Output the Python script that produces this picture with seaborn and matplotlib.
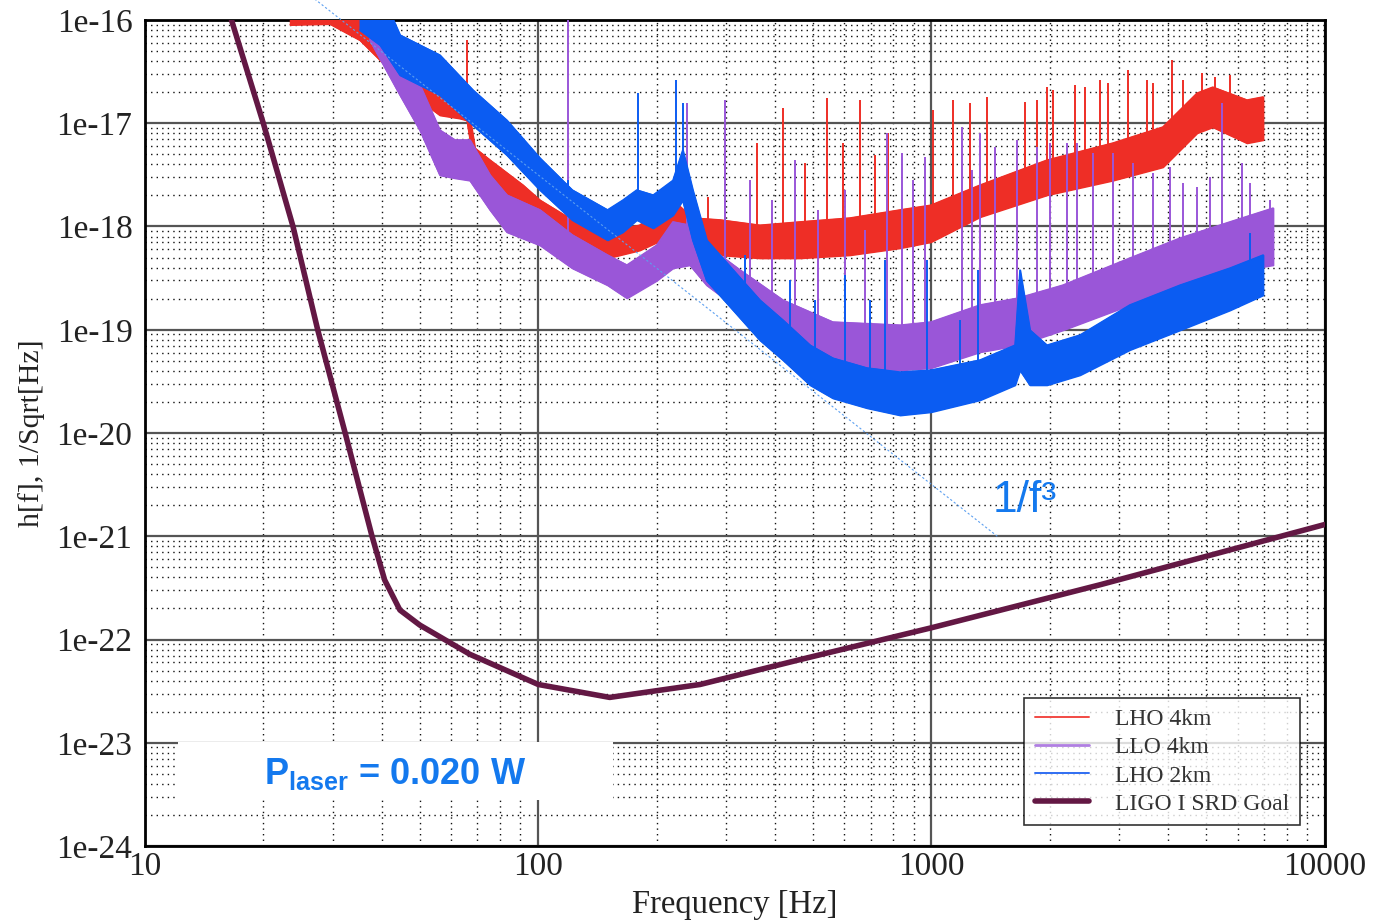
import numpy as np
import matplotlib
matplotlib.use("Agg")
import matplotlib.pyplot as plt
import seaborn as sns
from matplotlib.lines import Line2D
from matplotlib.patches import Rectangle
from matplotlib.ticker import FixedLocator, LogLocator, NullFormatter

# ---------------- data ----------------
# LHO 4km (red) noise band: frequency, lower edge, upper edge
lho4_f = [23.4, 29.5, 35.2, 39.6, 44.5, 50.0, 56.2, 63.0, 65.9, 69.0, 75.4, 91.4,
          101, 122, 150, 181, 220, 247, 290, 366, 463, 620, 832, 996, 1328, 1965,
          2891, 3873, 4732, 5188, 6339, 6966]
lho4_lo = [9.0e-17, 9.2e-17, 6.4e-17, 4.1e-17, 2.6e-17, 1.68e-17, 1.2e-17, 1.12e-17,
           1.07e-17, 3.52e-18, 2.52e-18, 1.45e-18, 1.03e-18, 6.6e-19, 4.95e-19, 5.9e-19,
           8.3e-19, 6.6e-19, 5.3e-19, 4.95e-19, 4.95e-19, 5.3e-19, 6.2e-19, 7.1e-19,
           1.24e-18, 2.02e-18, 2.8e-18, 3.77e-18, 8.05e-18, 9.2e-18, 6.44e-18, 6.9e-18]
lho4_hi = [2.44e-16, 2.44e-16, 1.25e-16, 8.0e-17, 5.1e-17, 2.93e-17, 1.88e-17, 1.76e-17,
           1.68e-17, 5.75e-18, 4.4e-18, 2.52e-18, 1.8e-18, 1.16e-18, 8.85e-19, 1.03e-18,
           1.8e-18, 1.21e-18, 1.16e-18, 1.03e-18, 1.11e-18, 1.21e-18, 1.45e-18, 1.61e-18,
           2.52e-18, 4.4e-18, 6.44e-18, 9.2e-18, 1.96e-17, 2.24e-17, 1.68e-17, 1.8e-17]
lho4_spike_f = [65.9, 270, 360, 419, 476, 542, 596, 658, 718, 775, 1009, 1133, 1252,
                1384, 1728, 1854, 1965, 2036, 2316, 2456, 2679, 2810, 3158, 3531, 3656,
                4083, 4355, 4871, 5260, 5737]
lho4_spike_h = [6.4e-17, 1.93e-18, 6.44e-18, 1.41e-17, 4.12e-18, 1.76e-17, 6.44e-18,
                1.68e-17, 4.93e-18, 8.05e-18, 1.34e-17, 1.68e-17, 1.57e-17, 1.8e-17,
                1.6e-17, 1.68e-17, 2.24e-17, 2.1e-17, 2.34e-17, 2.24e-17, 2.6e-17,
                2.45e-17, 3.28e-17, 2.6e-17, 2.45e-17, 4.1e-17, 2.6e-17, 3.07e-17,
                2.81e-17, 2.93e-17]

# LLO 4km (purple)
llo4_f = [37.3, 44.5, 50.0, 56.2, 61.4, 67.0, 75.4, 83.2, 101, 122, 150, 168, 200,
          220, 243, 268, 326, 419, 561, 832, 996, 1328, 1660, 2158, 3192, 4285, 5737, 7386]
llo4_lo = [6.4e-17, 1.88e-17, 8.6e-18, 3.15e-18, 2.95e-18, 2.8e-18, 1.45e-18, 8.85e-19,
           6.6e-19, 3.96e-19, 2.71e-19, 2.03e-19, 3.0e-19, 3.96e-19, 4.24e-19, 2.71e-19,
           1.55e-19, 7.1e-20, 4.56e-20, 4.07e-20, 4.27e-20, 6.1e-20, 7.1e-20, 9.95e-20,
           1.74e-19, 2.54e-19, 3.62e-19, 4.24e-19]
llo4_hi = [2.44e-16, 5.73e-17, 2.35e-17, 8.6e-18, 6.9e-18, 6.9e-18, 3.15e-18, 2.02e-18,
           1.45e-18, 8.3e-19, 5.3e-19, 4.24e-19, 6.6e-19, 1.11e-18, 1.03e-18, 6.6e-19,
           3.79e-19, 1.94e-19, 1.19e-19, 1.11e-19, 1.19e-19, 1.74e-19, 2.03e-19, 2.71e-19,
           4.95e-19, 7.74e-19, 1.11e-18, 1.51e-18]
llo4_spike_f = [119, 239, 298, 345, 393, 450, 514, 603, 678, 771, 842, 897, 962, 1194,
                1267, 1328, 1449, 1648, 1854, 2000, 2210, 2344, 2572, 2891, 3251, 3656,
                4036, 4355, 4732, 5105, 5474, 6151, 6454, 7250]
llo4_spike_h = [1.5e-16, 1.57e-17, 1.68e-17, 2.8e-18, 1.8e-18, 4.4e-18, 1.45e-18,
                2.26e-18, 9.25e-19, 8.05e-18, 5.15e-18, 2.8e-18, 4.71e-18, 9.2e-18,
                3.52e-18, 8.05e-18, 5.89e-18, 6.9e-18, 5.89e-18, 6.44e-18, 6.44e-18,
                6.44e-18, 5.15e-18, 5.15e-18, 4.12e-18, 3.3e-18, 3.77e-18, 2.64e-18,
                2.41e-18, 3.01e-18, 1.57e-17, 4.12e-18, 2.64e-18, 1.8e-18]

# LHO 2km (blue)
lho2_f = [35.2, 39.6, 44.5, 56.2, 68.2, 83.2, 101, 122, 150, 164, 178, 196, 220, 233,
          247, 268, 313, 366, 419, 491, 561, 685, 832, 996, 1328, 1630, 1678, 1778,
          1965, 2384, 3192, 4285, 5737, 6966]
lho2_lo = [8.0e-17, 5.73e-17, 2.93e-17, 1.88e-17, 9.6e-18, 4.93e-18, 2.26e-18, 1.16e-18,
           7.4e-19, 8.85e-19, 1.16e-18, 9.67e-19, 1.29e-18, 1.8e-18, 7.4e-19, 3.0e-19,
           1.55e-19, 7.95e-20, 5.1e-20, 2.92e-20, 2.18e-20, 1.75e-20, 1.49e-20, 1.6e-20,
           2.09e-20, 2.92e-20, 4.07e-20, 2.92e-20, 2.92e-20, 3.65e-20, 6.4e-20, 9.95e-20,
           1.55e-19, 2.17e-19]
lho2_hi = [2.44e-16, 1.95e-16, 7.16e-17, 4.58e-17, 2.1e-17, 1.07e-17, 4.6e-18, 2.26e-18,
           1.45e-18, 1.8e-18, 2.26e-18, 2.02e-18, 2.8e-18, 5.5e-18, 2.26e-18, 7.4e-19,
           3.79e-19, 1.94e-19, 1.24e-19, 7.1e-20, 5.32e-20, 4.27e-20, 3.9e-20, 4.07e-20,
           5.1e-20, 7.1e-20, 3.79e-19, 9.95e-20, 7.1e-20, 8.9e-20, 1.74e-19, 2.71e-19,
           3.96e-19, 5.3e-19]
lho2_spike_f = [119, 179, 224, 233, 336, 436, 505, 603, 697, 762, 973, 1180, 1312, 6454]
lho2_spike_h = [2.8e-18, 1.96e-17, 2.6e-17, 1.57e-17, 5.3e-19, 3.0e-19, 1.94e-19,
                3.39e-19, 1.94e-19, 4.7e-19, 4.7e-19, 1.24e-19, 3.79e-19, 8.65e-19]

# LIGO I SRD goal
srd_f = [16.6, 20.0, 23.8, 27.5, 32.3, 37.8, 40.7, 44.5, 50.0, 67.0, 100, 152, 258,
         464, 1000, 2690, 10000]
srd_h = [1e-16, 1e-17, 1e-18, 1e-19, 1e-20, 1e-21, 3.77e-22, 1.93e-22, 1.38e-22,
         7.2e-23, 3.67e-23, 2.75e-23, 3.67e-23, 6.4e-23, 1.3e-22, 3.4e-22, 1.3e-21]

# 1/f^3 guide line end points
slope_f = [27.0, 1470.0]
slope_h = [1.6e-16, 1.0e-21]

xticks = [10, 100, 1000, 10000]
xtick_labels = ["10", "100", "1000", "10000"]
yticks = [1e-24, 1e-23, 1e-22, 1e-21, 1e-20, 1e-19, 1e-18, 1e-17, 1e-16]
ytick_labels = ["1e-24", "1e-23", "1e-22", "1e-21", "1e-20", "1e-19", "1e-18",
                "1e-17", "1e-16"]

legend_labels = ["LHO 4km", "LLO 4km", "LHO 2km", "LIGO I SRD Goal"]

# ---------------- style ----------------
sns.set_theme(style="white")
plt.rcParams['font.family'] = ['Liberation Serif', 'DejaVu Serif']
plt.rcParams['mathtext.fontset'] = 'custom'
plt.rcParams['mathtext.rm'] = 'Liberation Sans'
plt.rcParams['mathtext.bf'] = 'Liberation Sans:bold'

RED = "#ee2e26"
PURPLE = "#9a56d8"
BLUE = "#0b5cf2"
SRD = "#631844"
ANNOT = "#1479ee"

fig = plt.figure(figsize=(13.8, 9.21), dpi=100)
ax = fig.add_axes([0.105, 0.0814, 0.855, 0.8969])
ax.set_xscale("log")
ax.set_yscale("log")
ax.set_xlim(10, 10000)
ax.set_ylim(1e-24, 1e-16)


def draw_detector(f, lo, hi, spk_f, spk_h, color, z):
    ax.fill_between(f, lo, hi, color=color, edgecolor=color, lw=1.2, zorder=z)
    sns.lineplot(x=f, y=hi, ax=ax, color=color, lw=1.0, sort=False, zorder=z)
    sns.lineplot(x=f, y=lo, ax=ax, color=color, lw=1.0, sort=False, zorder=z)
    base = 10 ** np.interp(np.log10(spk_f), np.log10(f), np.log10(lo))
    ax.vlines(spk_f, base, spk_h, color=color, lw=1.4, zorder=z)


draw_detector(lho4_f, lho4_lo, lho4_hi, lho4_spike_f, lho4_spike_h, RED, 3)
draw_detector(llo4_f, llo4_lo, llo4_hi, llo4_spike_f, llo4_spike_h, PURPLE, 4)
draw_detector(lho2_f, lho2_lo, lho2_hi, lho2_spike_f, lho2_spike_h, BLUE, 5)

sns.lineplot(x=srd_f, y=srd_h, ax=ax, color=SRD, lw=4.0, sort=False, zorder=6)

# 1/f^3 guide, runs past the top of the frame
ax.plot(slope_f, slope_h, color="#5c9ff0", lw=0.8, ls=(0, (2, 2)), clip_on=False,
        zorder=7)

# grid
ax.xaxis.set_major_locator(FixedLocator(xticks))
ax.set_xticklabels(xtick_labels)
ax.yaxis.set_major_locator(FixedLocator(yticks))
ax.set_yticklabels(ytick_labels)
ax.xaxis.set_minor_locator(LogLocator(base=10, subs=np.arange(2, 10), numticks=30))
ax.yaxis.set_minor_locator(LogLocator(base=10, subs=np.arange(2, 10), numticks=30))
ax.xaxis.set_minor_formatter(NullFormatter())
ax.yaxis.set_minor_formatter(NullFormatter())
ax.grid(which="major", color="#555555", lw=1.6, ls="-", zorder=1)
ax.grid(which="minor", color="#111111", lw=1.0, ls=(0, (1, 3)), zorder=1)
ax.set_axisbelow(True)

ax.tick_params(which="both", length=0)
ax.tick_params(axis="x", labelsize=24, pad=4, colors="#222222")
ax.tick_params(axis="y", labelsize=24, pad=9, colors="#222222")
for s in ax.spines.values():
    s.set_color("black")
    s.set_linewidth(2)

ax.set_xlabel("Frequency [Hz]", fontsize=23.5, color="#222222", labelpad=5)
ax.set_ylabel("h[f], 1/Sqrt[Hz]", fontsize=21.5, color="#222222", labelpad=8)

# legend
handles = [Line2D([], [], color="#f24a44", lw=1.4),
           Line2D([], [], color="#b07fe2", lw=2.0),
           Line2D([], [], color="#2f6ef2", lw=1.4),
           Line2D([], [], color=SRD, lw=4.0)]
leg = ax.legend(handles, legend_labels, loc="lower right",
                bbox_to_anchor=(0.979, 0.025), fontsize=17, frameon=True,
                fancybox=False, edgecolor="black", handlelength=2.3,
                handletextpad=1.1, labelspacing=0.28, borderpad=0.45,
                borderaxespad=0)
leg.get_frame().set_linewidth(1.2)
leg.set_zorder(10)
for t in leg.get_texts():
    t.set_color("#333333")

# annotations pasted over the chart
fig.patches.append(Rectangle((178 / 1380, 1 - 800 / 921), 435 / 1380, 58 / 921,
                             transform=fig.transFigure, facecolor="white",
                             edgecolor="none", zorder=20))
fig.text(395 / 1380, 1 - 784 / 921, r"$\mathbf{P_{laser}}$ = 0.020 W",
         ha="center", va="baseline", fontsize=26, fontweight="bold",
         family="Liberation Sans", color=ANNOT, zorder=21)
fig.text(993 / 1380, 1 - 512 / 921, "1/f³", ha="left", va="baseline",
         fontsize=32, family="Liberation Sans", color=ANNOT, zorder=21)

fig.savefig("out.png", dpi=100)
